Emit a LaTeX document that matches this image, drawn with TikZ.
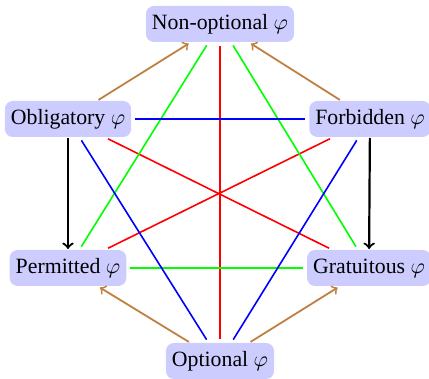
\documentclass[tikz,border=0pt]{standalone}
\usepackage{fontspec}
\setmainfont{Liberation Serif}
\begin{document}
\begin{tikzpicture}[x=0.5pt,y=-0.5pt,
  box/.style={fill=blue!20, rounded corners=4pt, inner xsep=3pt, inner ysep=0pt,
    minimum height=18pt, outer sep=0pt, font=\fontsize{10.9}{13}\selectfont},
  link/.style={line width=0.8pt, shorten <=2pt, shorten >=2pt},
  imp/.style={->, brown, line width=0.9pt, shorten <=1pt, shorten >=1.5pt},
  ent/.style={->, black, line width=1.1pt, shorten <=0.5pt, shorten >=0.5pt}]
\useasboundingbox (0,0) rectangle (429,379);
\node[box] (no) at (220,24) {Non-optional $\varphi$};
\node[box] (ob) at (68,119) {Obligatory $\varphi$};
\node[box] (fo) at (370,119) {Forbidden $\varphi$};
\node[box] (pe) at (68,268) {Permitted $\varphi$};
\node[box] (gr) at (369,268) {Gratuitous $\varphi$};
\node[box] (op) at (220,361) {Optional $\varphi$};
% red
\draw[link, red] (no) -- (op);
\draw[link, red] (ob) -- (gr);
\draw[link, red] (fo) -- (pe);
% green
\draw[link, green] (no) -- (pe);
\draw[link, green] (no) -- (gr);
\draw[link, green] (pe) -- (gr);
% blue
\draw[link, blue] (ob) -- (fo);
\draw[link, blue] (ob) -- (op);
\draw[link, blue] (fo) -- (op);
% brown
\draw[imp] (ob) -- (no);
\draw[imp] (fo) -- (no);
\draw[imp] (op) -- (pe);
\draw[imp] (op) -- (gr);
% black
\draw[ent] (ob) -- (pe);
\draw[ent] (fo) -- (gr);
\end{tikzpicture}
\end{document}
